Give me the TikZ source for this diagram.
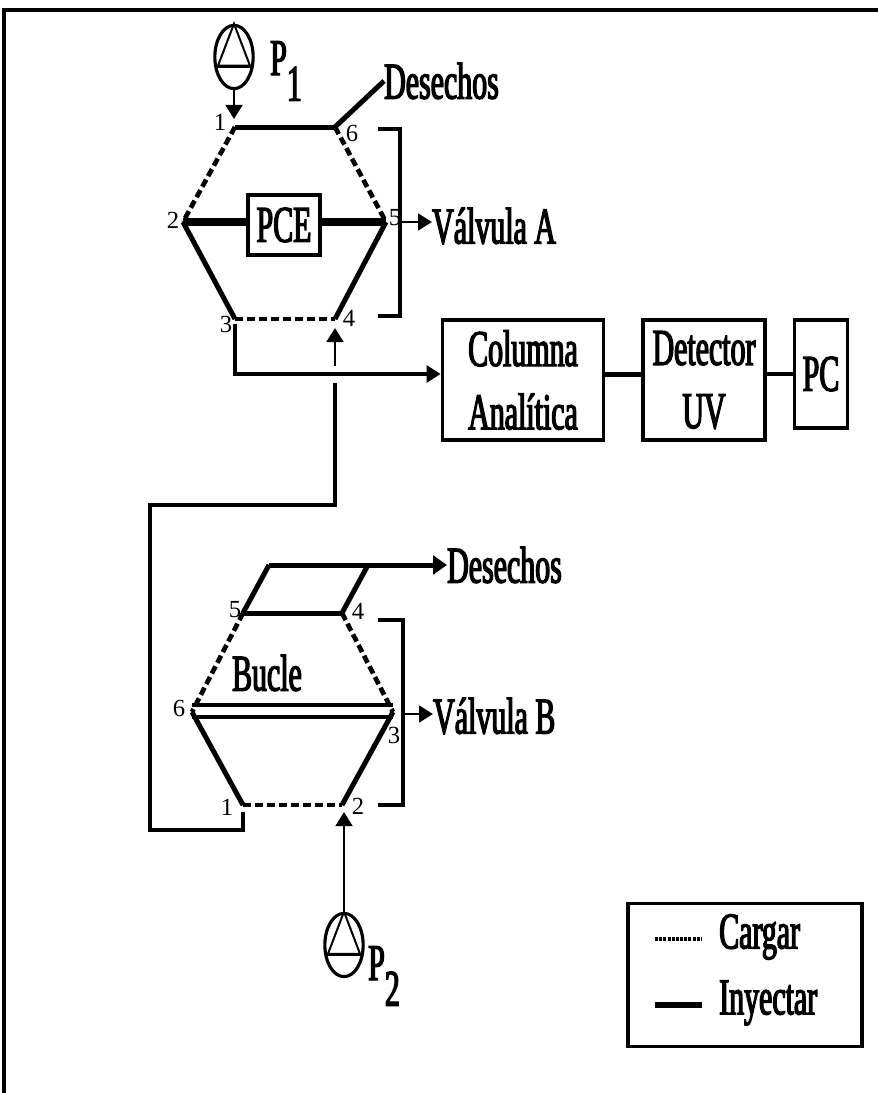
\documentclass[tikz,border=0pt]{standalone}
\usepackage{fontspec}
\setmainfont{Liberation Serif}
\newfontfamily\condfont[FakeStretch=0.58,FakeBold=2.5]{Liberation Serif}
\usetikzlibrary{arrows.meta,shapes.geometric}

\begin{document}
\begin{tikzpicture}[
  x=0.03cm,y=-0.03cm,
  font=\fontsize{44}{54}\selectfont\condfont,
  box/.style={draw,line width=1.1mm,align=center,inner sep=0pt},
  pump/.style={draw,ellipse,line width=.95mm,minimum width=1.15cm,minimum height=1.9cm,inner sep=0pt},
  num/.style={font=\fontsize{21}{21}\selectfont},
  label/.style={anchor=west,inner sep=0pt},
  inyectar/.style={line width=1.5mm},
  grueso/.style={line width=2.2mm},
  cargar/.style={line width=1.4mm,dash pattern=on 2.4mm off 1.2mm},
  linea/.style={line width=.95mm},
  arrow/.style={-{Triangle[length=4.2mm,width=5mm]},line width=.85mm}
]
\useasboundingbox (0,0) rectangle (878,1093);
\draw[line width=1.1mm] (4,1093) -- (4,10) -- (878,10);

% valvula A
\coordinate (a1) at (235,127);
\coordinate (a2) at (183,222);
\coordinate (a3) at (235,319);
\coordinate (a4) at (335,319);
\coordinate (a5) at (386,222);
\coordinate (a6) at (335,127);
\node[box,minimum width=2.16cm,minimum height=1.8cm] (pce) at (284,225) {PCE};
\draw[inyectar] (a1) -- (a6);
\draw[cargar] (a1) -- (a2);
\draw[cargar] (a6) -- (a5);
\draw[cargar] (a3) -- (a4);
\draw[inyectar] (a2) -- (a3);
\draw[inyectar] (a4) -- (a5);
\draw[grueso] (a2) -- (a2 -| pce.west);
\draw[grueso] (a5 -| pce.east) -- (a5);
\foreach \name/\px/\py/\txt in {n1/220/122/1,n2/173/220/2,n3/226/324/3,n4/349/318/4,n5/395/218/5,n6/352/133/6}
  \node[num] (a\name) at (\px,\py) {\txt};

\node[label] (desechosa) at (384,81) {Desechos};
\draw[inyectar] (a6) -- (desechosa.west);

\coordinate (brazoa1) at (378,129);
\coordinate (brazoa2) at (400,129);
\coordinate (brazoa3) at (400,316);
\coordinate (brazoa4) at (378,316);
\draw[linea] (brazoa1) -- (brazoa2) -- (brazoa3) -- (brazoa4);
\node[label] (valvulaa) at (432,226) {Válvula A};
\coordinate (salidaa) at (400,222);
\draw[arrow] (salidaa) -- (salidaa -| valvulaa.west);

% bomba 1
\node[pump] (bomba1) at (234,57) {};
\draw[line width=.6mm] (bomba1.north) -- ++(-16,42) -- ++(32,0) -- cycle;
\draw[line width=.6mm] ([shift={(-18,10)}]bomba1.center) -- ([shift={(18,10)}]bomba1.center);
\node[anchor=base west,inner sep=0pt] (p1) at (270,75) {P\raisebox{-.5em}{1}};
\coordinate (a1in) at (234,119);
\draw[arrow] (bomba1.south) -- (a1in);

% caja de detectores
\node[box,minimum width=4.83cm,minimum height=3.6cm] (columna) at (523,380) {Columna\\Analítica};
\node[box,minimum width=3.66cm,minimum height=3.6cm] (detector) at (704,380) {Detector\\UV};
\node[box,minimum width=1.59cm,minimum height=3.24cm] (pc) at (821,374) {PC};
\draw[inyectar] (columna.east |- pc.west) -- (detector.west |- pc.west);
\draw[linea] (detector.east |- pc.west) -- (pc.west);
\coordinate (a3out) at (235,324);
\draw[arrow,line width=1.2mm] (a3out) |- (columna.west |- pc.west);

% valvula B
\coordinate (b1) at (243,805);
\coordinate (b2) at (342,805);
\coordinate (b3) at (393,712);
\coordinate (b4) at (342,613);
\coordinate (b5) at (243,613);
\coordinate (b6) at (192,712);
\draw[inyectar] (b5) -- (b4);
\draw[cargar] (b5) -- (b6);
\draw[cargar] (b4) -- (b3);
\draw[cargar] (b1) -- (b2);
\draw[inyectar] (b6) -- (b1);
\draw[inyectar] (b3) -- (b2);
\coordinate (bucle1) at (192,705);
\coordinate (bucle2) at (393,705);
\coordinate (bucle3) at (192,717);
\coordinate (bucle4) at (393,717);
\draw[linea] (bucle1) -- (bucle2);
\draw[linea] (bucle3) -- (bucle4);
\node[inner sep=0pt] (bucle) at (267,673) {Bucle};
\foreach \name/\px/\py/\txt in {n1/227/807/1,n2/358/806/2,n3/394/735/3,n4/358/611/4,n5/235/610/5,n6/179/708/6}
  \node[num] (b\name) at (\px,\py) {\txt};

\node[label] (desechosb) at (447,565) {Desechos};
\coordinate (esquinab5) at (269,565);
\coordinate (esquinab4) at (368,565);
\draw[inyectar] (b5) -- (esquinab5);
\draw[inyectar] (b4) -- (esquinab4);
\draw[inyectar,-{Triangle[length=4.2mm,width=5.6mm]}] (esquinab5) -- (desechosb.west);

\coordinate (brazob1) at (378,620);
\coordinate (brazob2) at (403,620);
\coordinate (brazob3) at (403,805);
\coordinate (brazob4) at (378,805);
\draw[linea] (brazob1) -- (brazob2) -- (brazob3) -- (brazob4);
\node[label] (valvulab) at (433,716) {Válvula B};
\coordinate (salidab) at (403,714);
\draw[arrow] (salidab) -- (salidab -| valvulab.west);

% union de valvulas
\coordinate (b1out) at (243,812);
\coordinate (vuelta1) at (243,830);
\coordinate (vuelta2) at (150,830);
\coordinate (vuelta3) at (150,505);
\coordinate (vuelta4) at (335,505);
\coordinate (salto1) at (335,383);
\coordinate (salto2) at (335,366);
\coordinate (a4in) at (335,328);
\draw[linea] (b1out) -- (vuelta1) -- (vuelta2) -- (vuelta3) -- (vuelta4) -- (salto1);
\draw[arrow] (salto2) -- (a4in);

% bomba 2
\node[pump] (bomba2) at (344,945) {};
\draw[line width=.6mm] (bomba2.north) -- ++(-16,42) -- ++(32,0) -- cycle;
\draw[line width=.6mm] ([shift={(-18,10)}]bomba2.center) -- ([shift={(18,10)}]bomba2.center);
\node[anchor=base west,inner sep=0pt] (p2) at (368,980) {P\raisebox{-.5em}{2}};
\coordinate (b2in) at (344,812);
\draw[arrow] (bomba2.north) -- (b2in);

% leyenda
\node[box,minimum width=7.02cm,minimum height=4.29cm] (leyenda) at (745,975) {};
\node[label] (txtcargar) at (719,937) {Cargar};
\node[label] (txtinyectar) at (719,1003) {Inyectar};
\coordinate (lineacargar) at (655,939);
\coordinate (lineainyectar) at (655,1005);
\draw[line width=1.3mm,dash pattern=on .9mm off .35mm] (lineacargar) -- (702,939);
\draw[line width=1.9mm] (lineainyectar) -- (702,1005);
\end{tikzpicture}
\end{document}
